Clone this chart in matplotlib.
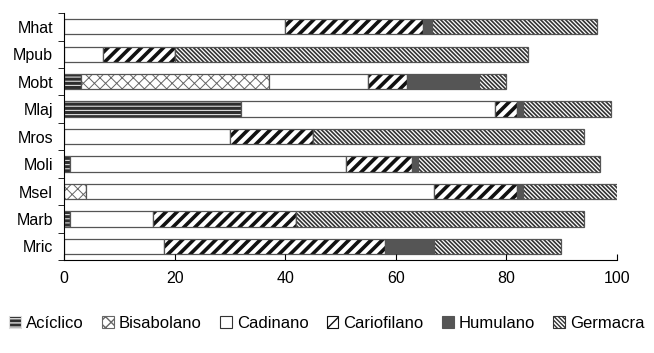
import matplotlib as mpl
mpl.use("Agg")
import matplotlib.pyplot as plt
import numpy as np
from matplotlib.patches import Patch

plt.rcParams['font.family'] = ['Liberation Sans', 'DejaVu Sans']

# especies, de abajo hacia arriba
especies = ['Mric', 'Marb', 'Msel', 'Moli', 'Mros', 'Mlaj', 'Mobt', 'Mpub', 'Mhat']

aciclico    = [0, 1, 0, 1, 0, 32, 3, 0, 0]
bisabolano  = [0, 0, 4, 0, 0, 0, 34, 0, 0]
cadinano    = [18, 15, 63, 50, 30, 46, 18, 7, 40]
cariofilano = [40, 26, 15, 12, 15, 4, 7, 13, 25]
humulano    = [9, 0, 1, 1, 0, 1, 13, 0, 1.5]
germacra    = [23, 52, 17, 33, 49, 16, 5, 64, 30]

# nombre, valores, relleno, color del trama, trama, grosor de trama
series = [
    ('Acíclico', aciclico, '#2e2e2e', '#dddddd', '----', 0.8),
    ('Bisabolano', bisabolano, '#ffffff', '#666666', 'xxx', 0.7),
    ('Cadinano', cadinano, '#ffffff', '#333333', '', 1.0),
    ('Cariofilano', cariofilano, '#ffffff', '#111111', '///', 2.6),
    ('Humulano', humulano, '#555555', '#555555', '', 1.0),
    ('Germacra', germacra, '#ffffff', '#333333', '\\' * 8, 1.2),
]

fig = plt.figure(figsize=(6.54, 3.53), dpi=100)
ax = fig.add_axes([0.098, 0.263, 0.845, 0.70])

y = np.arange(len(especies))
left = np.zeros(len(especies))
handles = []
for nombre, vals, face, hcol, hatch, hlw in series:
    vals = np.array(vals, dtype=float)
    with plt.rc_context({'hatch.linewidth': hlw}):
        ax.barh(y, vals, left=left, height=0.56, color=face, edgecolor=hcol,
                hatch=hatch, linewidth=0)
        handles.append(Patch(facecolor=face, edgecolor=hcol, hatch=hatch,
                             linewidth=0.8, label=nombre))
    ax.barh(y, vals, left=left, height=0.56, color='none',
            edgecolor='#555555', linewidth=0.9)
    left += vals

ax.set_xlim(0, 100)
ax.set_ylim(-0.5, len(especies) - 0.5)
ax.set_xticks([0, 20, 40, 60, 80, 100])
ax.set_yticks(y)
ax.set_yticklabels(especies)
ax.set_yticks(np.arange(-0.5, len(especies), 1), minor=True)
ax.tick_params(axis='y', which='major', length=0, labelsize=11.5, pad=8)
ax.tick_params(axis='y', which='minor', length=4, direction='out')
ax.tick_params(axis='x', direction='in', length=4, labelsize=11.5, pad=8)
for s in ['top', 'right']:
    ax.spines[s].set_visible(False)

fig.legend(handles=handles, loc='lower center', bbox_to_anchor=(0.5, 0.02),
           ncol=6, frameon=False, fontsize=12, handlelength=0.7,
           handleheight=0.7, handletextpad=0.3, columnspacing=1.1)

plt.savefig("out.png", dpi=100)
